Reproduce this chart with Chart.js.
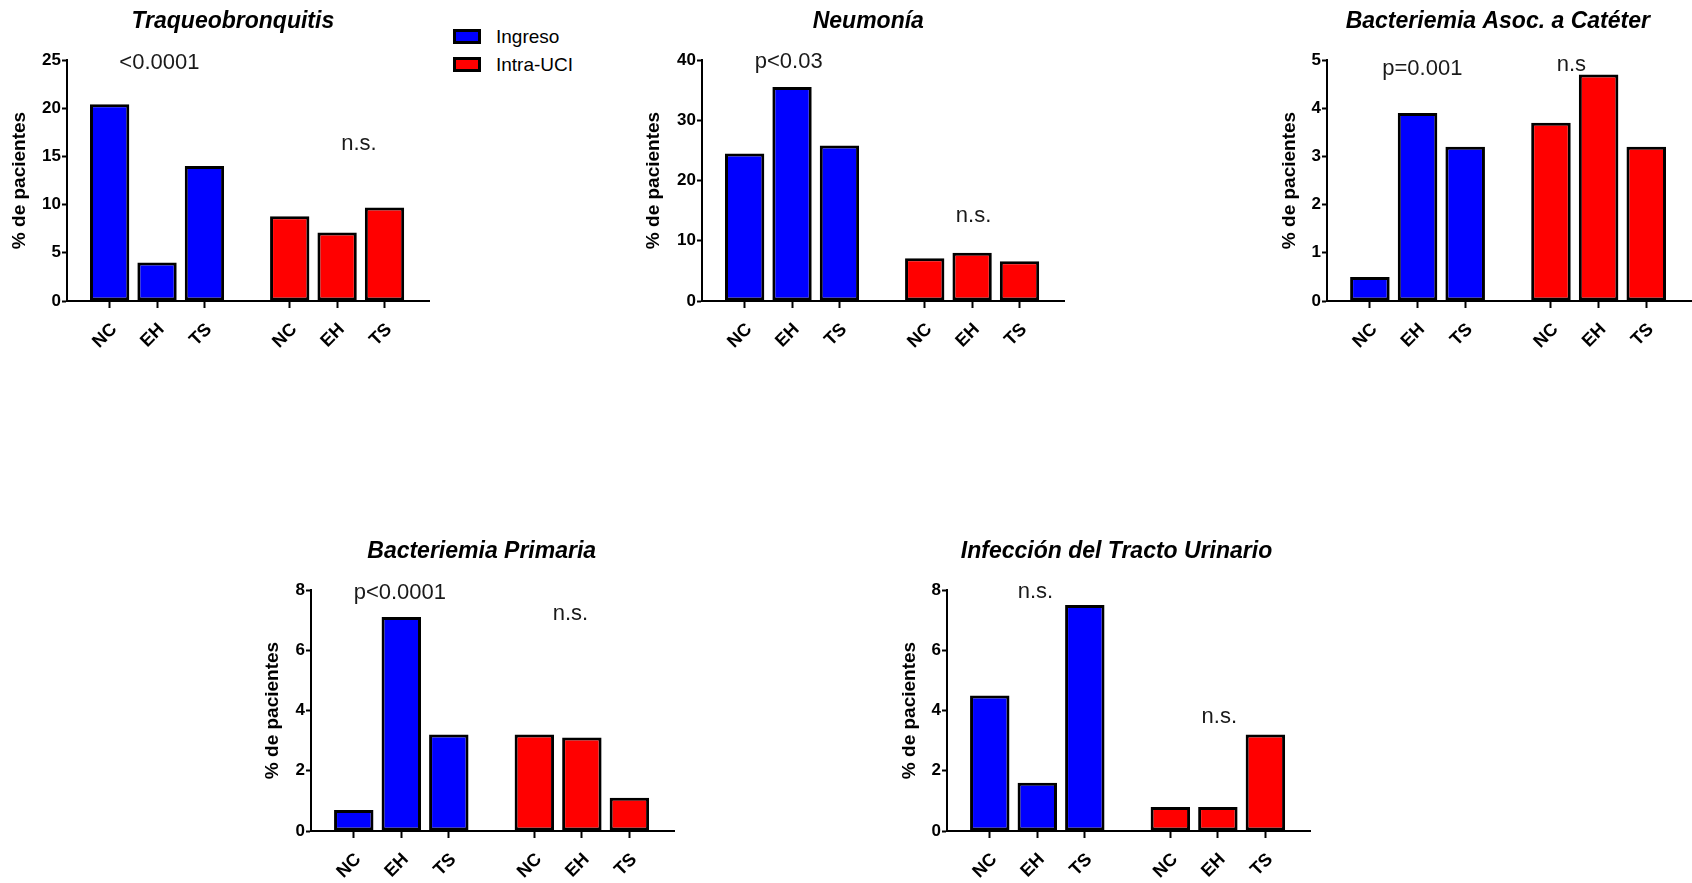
<!DOCTYPE html>
<html lang="es">
<head>
<meta charset="utf-8">
<title>Infecciones nosocomiales por grupo</title>
<script src="https://cdn.jsdelivr.net/npm/chart.js@4.4.1/dist/chart.umd.min.js"></script>
<style>
  html, body { margin: 0; padding: 0; background: #fff; width: 1692px; height: 883px; overflow: hidden; }
  #stage { position: relative; width: 1692px; height: 883px; }
  #stage canvas { position: absolute; }
  .swatch { position: absolute; box-sizing: border-box; width: 28px; height: 15px; border: 3px solid #000; }
  .legend-label { position: absolute; font-family: 'Liberation Sans', Arial, Helvetica, sans-serif; font-size: 19px; line-height: 19px; color: #000; white-space: nowrap; }
</style>
</head>
<body>
<div id="stage"></div>
<script>
// ---- data ----
const categories = ['NC', 'EH', 'TS'];
const seriesNames = ['Ingreso', 'Intra-UCI'];
const yAxisLabel = '% de pacientes';

const traqueoTitle = 'Traqueobronquitis';
const traqueoIngreso = [20.4, 4.0, 14.0];
const traqueoIntraUci = [8.8, 7.1, 9.7];
const traqueoTicks = [0, 5, 10, 15, 20, 25];
const traqueoNotes = [{ text: '<0.0001', x: 1.05, y: 24.1 }, { text: 'n.s.', x: 5.26, y: 15.7 }];

const neumoniaTitle = 'Neumonía';
const neumoniaIngreso = [24.5, 35.5, 25.8];
const neumoniaIntraUci = [7.1, 8.0, 6.6];
const neumoniaTicks = [0, 10, 20, 30, 40];
const neumoniaNotes = [{ text: 'p<0.03', x: 0.93, y: 38.7 }, { text: 'n.s.', x: 4.83, y: 13.1 }];

const cateterTitle = 'Bacteriemia Asoc. a Catéter';
const cateterIngreso = [0.5, 3.9, 3.2];
const cateterIntraUci = [3.7, 4.7, 3.2];
const cateterTicks = [0, 1, 2, 3, 4, 5];
const cateterNotes = [{ text: 'p=0.001', x: 1.10, y: 4.69 }, { text: 'n.s', x: 4.23, y: 4.78 }];

const primariaTitle = 'Bacteriemia Primaria';
const primariaIngreso = [0.7, 7.1, 3.2];
const primariaIntraUci = [3.2, 3.1, 1.1];
const primariaTicks = [0, 2, 4, 6, 8];
const primariaNotes = [{ text: 'p<0.0001', x: 0.97, y: 7.70 }, { text: 'n.s.', x: 4.56, y: 7.0 }];

const urinarioTitle = 'Infección del Tracto Urinario';
const urinarioIngreso = [4.5, 1.6, 7.5];
const urinarioIntraUci = [0.8, 0.8, 3.2];
const urinarioTicks = [0, 2, 4, 6, 8];
const urinarioNotes = [{ text: 'n.s.', x: 0.96, y: 7.74 }, { text: 'n.s.', x: 4.83, y: 3.57 }];

// ---- styling & layout ----
const FONT = "'Liberation Sans', Arial, Helvetica, sans-serif";
const seriesColors = ['#0000ff', '#ff0000'];
const groupStart = [0, 3.8];          // slot where each series group begins on the x scale
const xRange = { min: -0.9, max: 6.76 };
const PANEL_H = 351;

const panels = [
  { title: traqueoTitle,  series: [traqueoIngreso,  traqueoIntraUci],  ticks: traqueoTicks,  notes: traqueoNotes,
    box: { left: 8,    top: 0,   width: 422, yAxisWidth: 59, titleDx: 13.8 } },
  { title: neumoniaTitle, series: [neumoniaIngreso, neumoniaIntraUci], ticks: neumoniaTicks, notes: neumoniaNotes,
    box: { left: 642,  top: 0,   width: 423, yAxisWidth: 60, titleDx: 14.8 } },
  { title: cateterTitle,  series: [cateterIngreso,  cateterIntraUci],  ticks: cateterTicks,  notes: cateterNotes,
    box: { left: 1278, top: 0,   width: 414, yAxisWidth: 49, titleDx: 12.8 } },
  { title: primariaTitle, series: [primariaIngreso, primariaIntraUci], ticks: primariaTicks, notes: primariaNotes,
    box: { left: 261,  top: 530, width: 414, yAxisWidth: 50, titleDx: 13.7 } },
  { title: urinarioTitle, series: [urinarioIngreso, urinarioIntraUci], ticks: urinarioTicks, notes: urinarioNotes,
    box: { left: 898,  top: 530, width: 413, yAxisWidth: 49, titleDx: 12.0 } }
];

Chart.defaults.font.family = FONT;
Chart.defaults.color = '#000';

// shifts the panel title sideways after layout
function titleNudge(dx) {
  return {
    id: 'titleNudge',
    afterLayout(chart) {
      const t = chart.titleBlock;
      if (t) { t.left += dx; t.right += dx; }
    }
  };
}

// significance notes placed in data units
function significanceNotes(notes) {
  return {
    id: 'significanceNotes',
    afterDatasetsDraw(chart) {
      const { ctx, scales: { x, y } } = chart;
      ctx.save();
      ctx.font = '22px ' + FONT;
      ctx.fillStyle = '#1a1a1a';
      ctx.textAlign = 'center';
      ctx.textBaseline = 'alphabetic';
      notes.forEach(n => ctx.fillText(n.text, x.getPixelForValue(n.x), y.getPixelForValue(n.y)));
      ctx.restore();
    }
  };
}

const stage = document.getElementById('stage');
const xTickValues = groupStart.flatMap(g => categories.map((_, k) => g + k));

panels.forEach(p => {
  const b = p.box;
  const canvas = document.createElement('canvas');
  canvas.width = b.width;
  canvas.height = PANEL_H;
  canvas.style.left = b.left + 'px';
  canvas.style.top = b.top + 'px';
  stage.appendChild(canvas);

  const datasets = p.series.map((vals, s) => ({
    label: seriesNames[s],
    data: vals.map((v, k) => ({ x: groupStart[s] + k, y: v })),
    backgroundColor: seriesColors[s],
    borderColor: '#000',
    borderWidth: 3,
    borderSkipped: false,
    inflateAmount: 0,
    grouped: false,
    barPercentage: 0.83,
    categoryPercentage: 1
  }));

  new Chart(canvas, {
    type: 'bar',
    data: { datasets },
    options: {
      responsive: false,
      animation: false,
      devicePixelRatio: 1,
      layout: { padding: 0 },
      plugins: {
        legend: { display: false },
        tooltip: { enabled: false },
        title: {
          display: true,
          text: p.title,
          color: '#000',
          font: { size: 23, weight: 'bold', style: 'italic', lineHeight: 1.2 },
          padding: { top: 7.5, bottom: 24.9 }
        }
      },
      scales: {
        x: {
          type: 'linear',
          min: xRange.min,
          max: xRange.max,
          offset: false,
          afterBuildTicks: s => { s.ticks = xTickValues.map(v => ({ value: v })); },
          afterFit: s => { s.height = 50; },
          ticks: {
            autoSkip: false,
            minRotation: 45,
            maxRotation: 45,
            padding: 11,
            labelOffset: 4.5,
            color: '#000',
            font: { size: 18, weight: 'bold' },
            callback: (v, i) => categories[i % categories.length]
          },
          grid: { offset: false, drawOnChartArea: false, drawTicks: true, tickLength: 7, tickWidth: 2, tickColor: '#000' },
          border: { display: true, color: '#000', width: 2 }
        },
        y: {
          type: 'linear',
          min: p.ticks[0],
          max: p.ticks[p.ticks.length - 1],
          afterBuildTicks: s => { s.ticks = p.ticks.map(v => ({ value: v })); },
          afterFit: s => { s.width = b.yAxisWidth; },
          ticks: {
            padding: 1,
            color: '#000',
            font: { size: 17, weight: 'bold' },
            callback: (v, i) => String(p.ticks[i])
          },
          grid: { drawOnChartArea: false, drawTicks: true, tickLength: 5, tickWidth: 2, tickColor: '#000' },
          border: { display: true, color: '#000', width: 2 },
          title: {
            display: true,
            text: yAxisLabel,
            color: '#000',
            font: { size: 19, weight: 'bold', lineHeight: 1.2 },
            padding: { top: 0, bottom: 0 }
          }
        }
      }
    },
    plugins: [titleNudge(b.titleDx), significanceNotes(p.notes)]
  });
});

// shared legend beside the first panel
const legendPos = { left: 453, top: 29, rowGap: 28, textDx: 43, textDy: -2 };
seriesNames.forEach((name, s) => {
  const sw = document.createElement('div');
  sw.className = 'swatch';
  sw.style.left = legendPos.left + 'px';
  sw.style.top = (legendPos.top + s * legendPos.rowGap) + 'px';
  sw.style.background = seriesColors[s];
  stage.appendChild(sw);
  const lb = document.createElement('div');
  lb.className = 'legend-label';
  lb.textContent = name;
  lb.style.left = (legendPos.left + legendPos.textDx) + 'px';
  lb.style.top = (legendPos.top + legendPos.textDy + s * legendPos.rowGap) + 'px';
  stage.appendChild(lb);
});
</script>
</body>
</html>
